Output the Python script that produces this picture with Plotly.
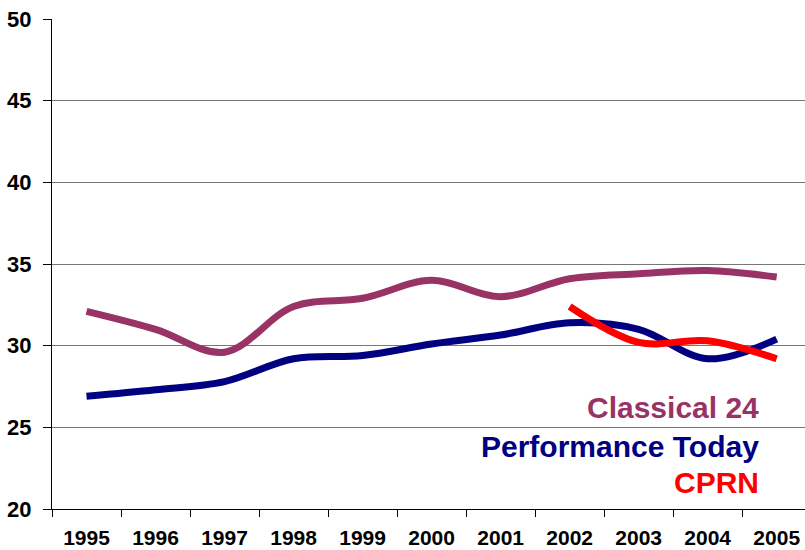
import plotly.graph_objects as go

years = ["1995", "1996", "1997", "1998", "1999", "2000", "2001", "2002", "2003", "2004", "2005"]
classical24 = [32.1, 31.0, 29.6, 32.4, 32.9, 34.0, 33.0, 34.1, 34.4, 34.6, 34.2]
performance_today = [26.9, 27.3, 27.8, 29.2, 29.4, 30.1, 30.65, 31.4, 31.0, 29.2, 30.4]
cprn_years = ["2002", "2003", "2004", "2005"]
cprn = [32.4, 30.2, 30.3, 29.2]

C_CLASS = "#993366"
C_PERF = "#000080"
C_CPRN = "#FF0000"
FONT = "Liberation Sans, Arial, sans-serif"

fig = go.Figure()
fig.add_trace(go.Scatter(x=years, y=classical24, mode="lines", name="Classical 24",
                         line=dict(color=C_CLASS, width=7, shape="spline", smoothing=1.0)))
fig.add_trace(go.Scatter(x=years, y=performance_today, mode="lines", name="Performance Today",
                         line=dict(color=C_PERF, width=7, shape="spline", smoothing=1.0)))
fig.add_trace(go.Scatter(x=cprn_years, y=cprn, mode="lines", name="CPRN",
                         line=dict(color=C_CPRN, width=7, shape="spline", smoothing=1.0)))

labels = [("Classical 24", C_CLASS, 26.2), ("Performance Today", C_PERF, 23.85), ("CPRN", C_CPRN, 21.6)]
for txt, col, yv in labels:
    fig.add_annotation(text="<b>" + txt + "</b>", x=0.942, xref="paper", y=yv, yref="y",
                       xanchor="right", yanchor="middle", showarrow=False,
                       font=dict(family=FONT, size=30, color=col))

fig.update_layout(
    width=805, height=550,
    margin=dict(l=52, r=0, t=19, b=41),
    paper_bgcolor="white", plot_bgcolor="white",
    showlegend=False,
    font=dict(family=FONT, size=22, color="black"),
)
fig.update_xaxes(
    type="category", categoryorder="array", categoryarray=years,
    range=[-0.5, 10.41], tickson="boundaries", automargin=False,
    ticks="outside", ticklen=7, tickcolor="black", tickwidth=1,
    showline=True, linecolor="black", linewidth=1, ticklabelstandoff=10,
    ticklabeloverflow="allow",
    showgrid=False, tickfont=dict(family=FONT, size=21, color="black", weight="bold"),
)
fig.update_yaxes(
    range=[20, 50], dtick=5, tick0=20, automargin=False,
    ticks="outside", ticklen=8, tickcolor="black", tickwidth=1,
    showline=True, linecolor="black", linewidth=1,
    showgrid=True, gridcolor="#777777", gridwidth=1,
    zeroline=False, ticklabelstandoff=7, ticklabeloverflow="allow",
    tickfont=dict(family=FONT, size=22, color="black", weight="bold"),
)

fig.write_html("out.html", config={"displayModeBar": False},
               post_script="document.body.style.margin='0';document.body.style.overflow='hidden';")
